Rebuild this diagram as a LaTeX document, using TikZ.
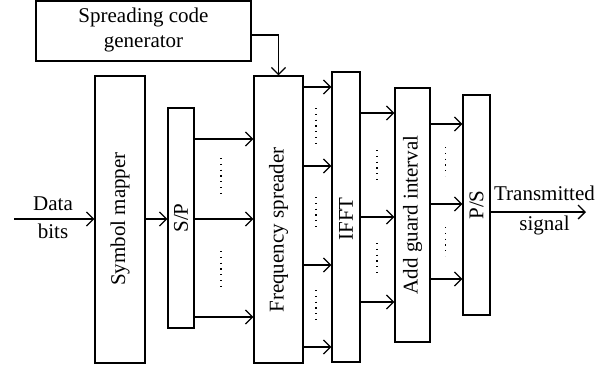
\documentclass[tikz,border=0pt]{standalone}
\usepackage{fontspec}
\setmainfont{Liberation Serif}
\usetikzlibrary{arrows.meta}
\begin{document}
\begin{tikzpicture}[x=1pt,y=-1pt,
  line width=1.3pt,
  every node/.style={font=\fontsize{21}{25}\selectfont, inner sep=0pt},
  blk/.style={draw, minimum width=#1, anchor=center},
  arr/.style={-{Straight Barb[length=7pt,width=14pt]}},
  dotcol/.style={line width=1.1pt, dash pattern=on 1.1pt off 4.7pt, line cap=butt}]
\useasboundingbox (0,0) rectangle (611,368);

% blocks
\node[blk=215pt, minimum height=60pt]  (gen)  at (143.5,31)  {};
\node[align=center] at (143.5,29.5) {Spreading code\\generator};
\node[blk=50pt, minimum height=287pt]  (sym)  at (120,219.5) {};
\node[blk=26pt, minimum height=220pt]  (sp)   at (181,218)   {};
\node[blk=49pt, minimum height=287pt]  (fs)   at (278.5,219.5) {};
\node[blk=28pt, minimum height=290pt]  (ifft) at (346,217)   {};
\node[blk=35pt, minimum height=254pt]  (agi)  at (412.5,215) {};
\node[blk=27pt, minimum height=220pt]  (ps)   at (476.5,205) {};

% rotated block titles
\node[rotate=90] at (120,219)   {Symbol mapper};
\node[rotate=90] at (181,218)   {S/P};
\node[rotate=90] at (278.5,230) {Frequency spreader};
\node[rotate=90] at (346,219)   {IFFT};
\node[rotate=90] at (412.5,215) {Add guard interval};
\node[rotate=90] at (476.5,205) {P/S};

% spreading code into the spreader
\draw[arr] ([yshift=-4pt]gen.east) -| (fs.north);

% input
\coordinate (din) at (14,219);
\draw[arr] (din) -- (din -| sym.west);
\node[align=center, font=\fontsize{21}{28}\selectfont] at (53,218) {Data\\bits};

% symbol mapper to S/P
\draw[arr] (sym.east |- 0,219) -- (sp.west |- 0,219);

% S/P to spreader
\foreach \yy in {139,219,317}
  \draw[arr] (sp.east |- 0,\yy) -- (fs.west |- 0,\yy);
\draw[dotcol] (221,158) -- (221,193);
\draw[dotcol] (221,251) -- (221,286);

% spreader to IFFT
\foreach \yy in {87,166,265,347}
  \draw[arr] (fs.east |- 0,\yy) -- (ifft.west |- 0,\yy);
\draw[dotcol] (316,108) -- (316,143);
\draw[dotcol] (316,197) -- (316,228);
\draw[dotcol] (316,290) -- (316,321);

% IFFT to guard interval
\foreach \yy in {113,217,302}
  \draw[arr] (ifft.east |- 0,\yy) -- (agi.west |- 0,\yy);
\draw[dotcol] (377,150) -- (377,180);
\draw[dotcol] (377,243) -- (377,273);

% guard interval to P/S
\foreach \yy in {124,204,279}
  \draw[arr] (agi.east |- 0,\yy) -- (ps.west |- 0,\yy);
\draw[dotcol] (445.7,147) -- (445.7,176);
\draw[dotcol] (445.7,227) -- (445.7,256);

% output
\coordinate (dout) at (586,212);
\draw[arr] (ps.east |- dout) -- (dout);
\node[align=center, font=\fontsize{21}{30}\selectfont] at (544.5,210) {Transmitted\\signal};
\end{tikzpicture}
\end{document}
